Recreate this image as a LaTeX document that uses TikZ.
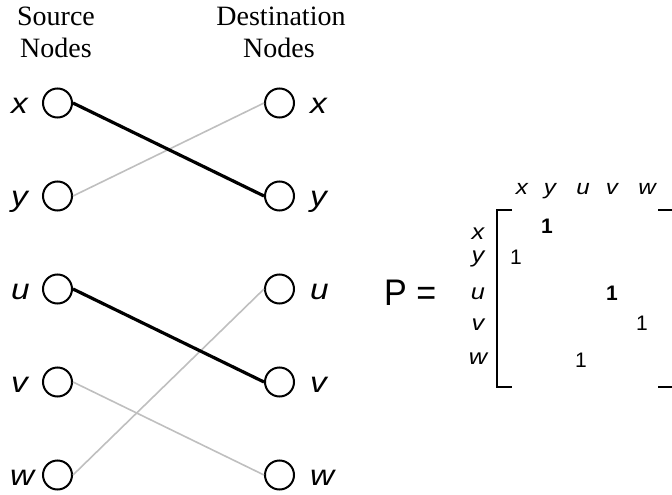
\documentclass[tikz,border=0pt]{standalone}
\usepackage{fontspec}
\setmainfont{Liberation Serif}
\newfontfamily\arialf{Liberation Sans}
\newcommand{\wide}[1]{\scalebox{1.15}[1]{#1}}
\begin{document}
\begin{tikzpicture}[x=1pt,y=-1pt,
  vtx/.style={circle,draw=black,line width=2pt,minimum size=29pt,inner sep=0pt},
  ttl/.style={font=\fontsize{28}{31}\selectfont,inner sep=0pt,anchor=base},
  lblL/.style={font=\arialf\itshape\fontsize{29}{31}\selectfont,inner sep=0pt,anchor=base west},
  lblR/.style={font=\arialf\itshape\fontsize{29}{31}\selectfont,inner sep=0pt,anchor=base west},
  match/.style={line width=3.2pt,draw=black},
  other/.style={line width=1.6pt,draw=black!25},
  clbl/.style={font=\arialf\itshape\fontsize{21}{22}\selectfont,inner sep=0pt,anchor=base},
  rlbl/.style={font=\arialf\itshape\fontsize{22}{22}\selectfont,inner sep=0pt,anchor=base},
  ment/.style={font=\arialf\fontsize{21}{22}\selectfont,inner sep=0pt,anchor=base},
  mentb/.style={font=\arialf\bfseries\fontsize{21}{22}\selectfont,inner sep=0pt,anchor=base},
  brk/.style={line width=2pt,draw=black}]
\useasboundingbox (0,0) rectangle (672,495);
% titles
\node[ttl] (t1) at (56,26) {Source};
\node[ttl] (t2) at (56,58) {Nodes};
\node[ttl] (t3) at (281,26) {Destination};
\node[ttl] (t4) at (279,58) {Nodes};
% source nodes
\node[vtx] (sx) at (57.5,103) {};
\node[vtx] (sy) at (57.5,196) {};
\node[vtx] (su) at (57.5,289) {};
\node[vtx] (sv) at (57.5,382) {};
\node[vtx] (sw) at (57.5,475) {};
% destination nodes
\node[vtx] (dx) at (279.5,103) {};
\node[vtx] (dy) at (279.5,196) {};
\node[vtx] (du) at (279.5,289) {};
\node[vtx] (dv) at (279.5,382) {};
\node[vtx] (dw) at (279.5,475) {};
% labels
\node[lblL] (lsx) at (11,113) {\wide{x}};
\node[lblL] (lsy) at (11,206) {\wide{y}};
\node[lblL] (lsu) at (11,299) {\wide{u}};
\node[lblL] (lsv) at (11,392) {\wide{v}};
\node[lblL] (lsw) at (10,485) {\wide{w}};
\node[lblR] (ldx) at (310,113) {\wide{x}};
\node[lblR] (ldy) at (310,206) {\wide{y}};
\node[lblR] (ldu) at (310,299) {\wide{u}};
\node[lblR] (ldv) at (310,392) {\wide{v}};
\node[lblR] (ldw) at (310,485) {\wide{w}};
% connectors
\draw[other] (sy.east) -- (dx.west);
\draw[other] (sv.east) -- (dw.west);
\draw[other] (sw.east) -- (du.west);
\draw[match] (sx.east) -- (dy.west);
\draw[match] (su.east) -- (dv.west);
% matrix
\node[font=\arialf\fontsize{37}{38}\selectfont,inner sep=0pt,anchor=base west] (P) at (384,305) {\scalebox{0.92}[1]{P =}};
\node[clbl] (cx) at (522,194) {\wide{x}};
\node[clbl] (cy) at (550,194) {\wide{y}};
\node[clbl] (cu) at (583,194) {\wide{u}};
\node[clbl] (cv) at (612,194) {\wide{v}};
\node[clbl] (cw) at (647,194) {\wide{w}};
\node[rlbl] (rx) at (478,239) {\wide{x}};
\node[rlbl] (ry) at (478,262) {\wide{y}};
\node[rlbl] (ru) at (478,299) {\wide{u}};
\node[rlbl] (rv) at (478,330) {\wide{v}};
\node[rlbl] (rw) at (478,364) {\wide{w}};
\node[mentb] (e1) at (547,233) {1};
\node[ment] (e2) at (516,264) {1};
\node[mentb] (e3) at (612,300) {1};
\node[ment] (e4) at (642,330) {1};
\node[ment] (e5) at (581,367) {1};
\coordinate (bl1) at (512,210);
\coordinate (bl2) at (497,210);
\coordinate (bl3) at (497,387);
\coordinate (bl4) at (512,387);
\draw[brk] (bl1) -- (bl2) -- (bl3) -- (bl4);
\coordinate (br1) at (658,210);
\coordinate (br2) at (672,210);
\coordinate (br3) at (658,387);
\coordinate (br4) at (672,387);
\draw[brk] (br1) -- (br2);
\draw[brk] (br3) -- (br4);
\end{tikzpicture}
\end{document}
